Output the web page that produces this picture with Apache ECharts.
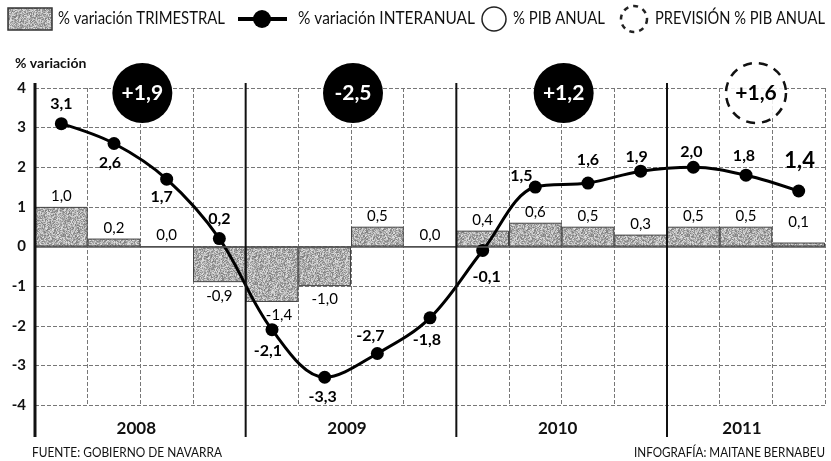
<!DOCTYPE html>
<html><head><meta charset="utf-8">
<script src="https://cdn.jsdelivr.net/npm/echarts@6/dist/echarts.min.js"></script>
<style>html,body{margin:0;padding:0;background:#fff}#c{width:831px;height:461px}</style>
</head><body><div id="c"></div>
<script>
// ---- DATA ----
const quarters = ['2008 T1','2008 T2','2008 T3','2008 T4','2009 T1','2009 T2','2009 T3','2009 T4','2010 T1','2010 T2','2010 T3','2010 T4','2011 T1','2011 T2','2011 T3'];
const trimestral = [1.0, 0.2, 0.0, -0.9, -1.4, -1.0, 0.5, 0.0, 0.4, 0.6, 0.5, 0.3, 0.5, 0.5, 0.1];
const interanual = [3.1, 2.6, 1.7, 0.2, -2.1, -3.3, -2.7, -1.8, -0.1, 1.5, 1.6, 1.9, 2.0, 1.8, 1.4];
const years = ['2008', '2009', '2010', '2011'];
const yearQuarters = [4, 4, 4, 3];
const pibAnual = ['+1,9', '-2,5', '+1,2', '+1,6'];
const pibPrevision = [false, false, false, true];
const yMin = -4, yMax = 4, yStep = 1;

// ---- STYLE ----
const FONT = 'Lato, "Noto Sans", sans-serif';
const lineLabelStyle = [
  {position:'top', offset:[0,0]},
  {position:'bottom', offset:[-4,0]},
  {position:'bottom', offset:[-5,-2]},
  {position:'top', offset:[0,0]},
  {position:'bottom', offset:[-4,2]},
  {position:'bottom', offset:[-2,0]},
  {position:'top', offset:[-7,2]},
  {position:'bottom', offset:[-3,3]},
  {position:'bottom', offset:[4,7]},
  {position:'top', offset:[-14,8]},
  {position:'top', offset:[0,-4]},
  {position:'top', offset:[-4,5]},
  {position:'top', offset:[-2,4]},
  {position:'top', offset:[-2,0]},
  {position:'top', offset:[1,-8], big:true}
];
const barLabelOffset = [[0,0],[0,0],[0,0],[0,0],[7,0],[0,0],[0,0],[0,0],[0,0],[0,0],[0,0],[0,0],[0,0],[0,0],[0,-10]];

function makeTexture(){
  const n = 48, c = document.createElement('canvas');
  c.width = c.height = n;
  const ctx = c.getContext('2d');
  const img = ctx.createImageData(n, n);
  for (let y = 0; y < n; y++) for (let x = 0; x < n; x++) {
    let h = Math.imul(x + 1, 374761393) ^ Math.imul(y + 7, 668265263);
    h = Math.imul(h ^ (h >>> 13), 1274126177);
    h = (h ^ (h >>> 16)) >>> 0;
    const v = 125 + (h % 100);
    const k = (y * n + x) * 4;
    img.data[k] = img.data[k+1] = img.data[k+2] = v; img.data[k+3] = 255;
  }
  ctx.putImageData(img, 0, 0);
  return c;
}
const texture = makeTexture();
const fmt = v => v.toFixed(1).replace('.', ',');

const measureCtx = document.createElement('canvas').getContext('2d');
function fitText(text, font, x, y, targetW, align){
  measureCtx.font = font;
  const w = measureCtx.measureText(text).width;
  return {type:'text', x, y, scaleX: targetW / w,
    style:{text, font, fill:'#111', align: align || 'left', verticalAlign:'middle'}};
}

const yearStart = [];
yearQuarters.reduce((acc, q) => { yearStart.push(acc); return acc + q; }, 0);
const totalQ = quarters.length;

const chart = echarts.init(document.getElementById('c'), null, {renderer:'canvas'});
chart.setOption({
  animation: false,
  backgroundColor: '#fff',
  grid: {left: 35, right: 6, top: 88, bottom: 56},
  xAxis: [
    {type:'category', data: quarters, boundaryGap: true,
     axisLine:{show:false}, axisTick:{show:false}, axisLabel:{show:false},
     splitLine:{show:true, interval:0, lineStyle:{color:'#777', width:1, type:[4,2]}}},
    {type:'value', min:0, max:totalQ, show:false}
  ],
  yAxis: {type:'value', min:yMin, max:yMax, interval:yStep,
    axisLine:{show:false}, axisTick:{show:false},
    axisLabel:{color:'#111', fontFamily:FONT, fontWeight:'bold', fontSize:15, margin:9},
    splitLine:{show:true, lineStyle:{color:'#777', width:1, type:[4,2]}}},
  series: [
    {name:'% variación TRIMESTRAL', type:'bar', barCategoryGap:'0%', xAxisIndex:0,
     itemStyle:{color:{image: texture, repeat:'repeat'}, borderColor:'#444', borderWidth:1},
     data: trimestral.map((v,i) => ({value:v, label:{show:true,
        position: v < 0 ? 'bottom' : 'top', distance: v < 0 ? 6 : 3, offset: barLabelOffset[i],
        formatter: () => fmt(v), color:'#000', fontFamily:FONT, fontSize:15}})),
     markLine:{silent:true, symbol:'none', label:{show:false},
       lineStyle:{color:'#555', width:1.5, type:'solid'}, data:[{yAxis:0}]},
     z:2},
    {name:'% variación INTERANUAL', type:'line', xAxisIndex:0, smooth:0.35,
     symbol:'circle', symbolSize:13, lineStyle:{color:'#000', width:3}, itemStyle:{color:'#000'},
     data: interanual.map((v,i) => ({value:v, label:{show:true,
        position: lineLabelStyle[i].position, offset: lineLabelStyle[i].offset, distance:5,
        formatter: () => fmt(v), color:'#000', fontFamily:FONT, fontWeight:'bold',
        fontSize: lineLabelStyle[i].big ? 22 : 16}})),
     z:4},
    {type:'custom', xAxisIndex:1, yAxisIndex:0, clip:false, silent:true, z:5,
     data: years.map((y,i) => [i]),
     renderItem(params, api){
       const i = api.value(0);
       const s = yearStart[i], e = s + yearQuarters[i];
       const top = api.coord([s, yMax]), bot = api.coord([s, yMin]);
       const mid = api.coord([(s+e)/2, yMin]);
       return {type:'group', children:[
         {type:'line', shape:{x1:top[0], y1:top[1]-5, x2:top[0], y2:bot[1]+32},
          style:{stroke:'#111', lineWidth: i === 0 ? 3 : 2}},
         {type:'text', x: mid[0]-4, y: mid[1]+24,
          style:{text: years[i], font:'bold 17px ' + FONT, fill:'#111', align:'center', verticalAlign:'middle'}}
       ]};
     }},
    {type:'custom', xAxisIndex:1, yAxisIndex:0, clip:false, silent:true, z:6,
     data: pibAnual.map((t,i) => [i]),
     renderItem(params, api){
       const i = api.value(0);
       const s = yearStart[i], e = s + yearQuarters[i];
       const p = api.coord([(s+e)/2, yMax]);
       const fc = pibPrevision[i];
       const cx = p[0] + (fc ? 10 : 2), cy = p[1] + 5;
       return {type:'group', children:[
         {type:'circle', shape:{cx, cy, r: 30},
          style: fc ? {fill:'rgba(255,255,255,0.85)', stroke:'#111', lineWidth:2.5, lineDash:[9,7]}
                    : {fill:'#000'}},
         {type:'text', x:cx, y:cy,
          style:{text: pibAnual[i], font:'bold 21px ' + FONT, fill: fc ? '#000' : '#fff', align:'center', verticalAlign:'middle'}}
       ]};
     }}
  ],
  graphic: [
    {type:'rect', shape:{x:8, y:8, width:44, height:22}, style:{fill:{image:texture, repeat:'repeat'}, stroke:'#333', lineWidth:1.5}},
    fitText('% variación TRIMESTRAL', '17px ' + FONT, 58, 19, 167),
    {type:'line', shape:{x1:238, y1:19, x2:287, y2:19}, style:{stroke:'#000', lineWidth:4}},
    {type:'circle', shape:{cx:262, cy:19, r:9}, style:{fill:'#000'}},
    fitText('% variación INTERANUAL', '17px ' + FONT, 298, 19, 177),
    {type:'circle', shape:{cx:494, cy:19, r:12}, style:{fill:'none', stroke:'#222', lineWidth:1.5}},
    fitText('% PIB ANUAL', '17px ' + FONT, 513, 19, 92),
    {type:'circle', shape:{cx:634, cy:19, r:13}, style:{fill:'none', stroke:'#222', lineWidth:2.5, lineDash:[5,5]}},
    fitText('PREVISIÓN % PIB ANUAL', '17px ' + FONT, 655, 19, 170),
    {type:'text', x:15, y:63, style:{text:'% variación', font:'bold 14px ' + FONT, fill:'#111', verticalAlign:'middle'}},
    fitText('FUENTE: GOBIERNO DE NAVARRA', '13px ' + FONT, 32, 453, 190),
    fitText('INFOGRAFÍA: MAITANE BERNABEU', '13px ' + FONT, 825, 453, 191, 'right')
  ]
});
</script></body></html>
